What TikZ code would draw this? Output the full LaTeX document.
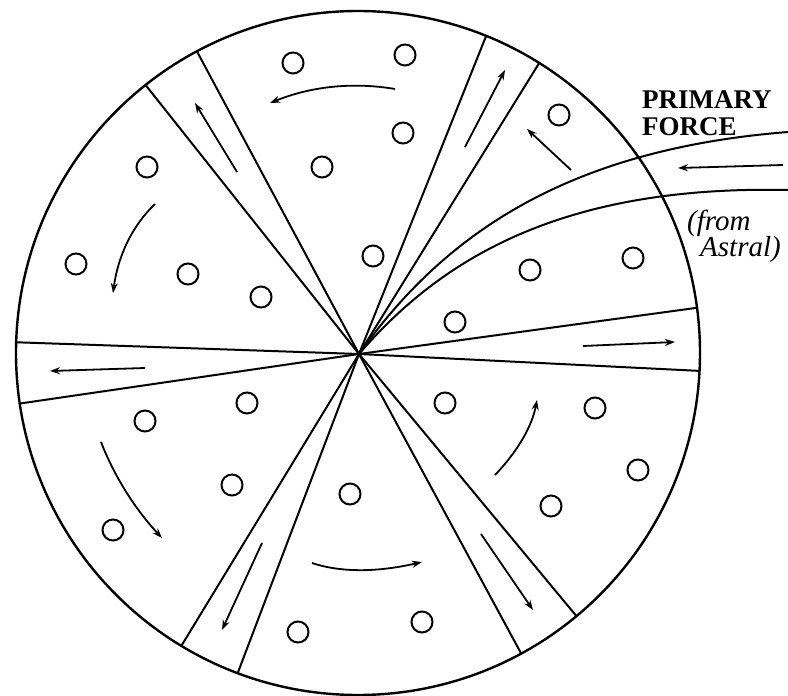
\documentclass[tikz,border=0pt]{standalone}
\usepackage{fontspec}
\setmainfont{Liberation Serif}
\usetikzlibrary{arrows.meta,calc}
\tikzset{
  >={Stealth[length=10pt,width=7pt]},
  rim/.style={draw=black,line width=2.4pt},
  spoke/.style={draw=black,line width=2pt},
  flow/.style={->,draw=black,line width=1.8pt},
  orb/.style={draw=black,line width=2pt},
  lab/.style={font=\bfseries\fontsize{27}{27}\selectfont,inner sep=0pt,anchor=base west},
  note/.style={font=\itshape\fontsize{29}{29}\selectfont,inner sep=0pt,anchor=base west},
}
\begin{document}
\begin{tikzpicture}[x=1pt,y=-1pt]
\useasboundingbox (0,0) rectangle (788,696);
\coordinate (ctr) at (358,353);
\coordinate (hub) at (359,354);
\draw[rim] (ctr) circle[radius=342pt];
% channel walls
\foreach \a in {128.4,118.1,68.0,58.0,178.2,188.5,7.6,-3.0,238.9,249.4,298.5,309.7}
  \draw[spoke] (hub) -- ($(ctr)+(\a:342pt)$);
% primary force stream
\draw[spoke] (hub) .. controls (440,240) and (560,150) .. (788,132);
\draw[spoke] (hub) .. controls (440,260) and (560,185) .. (788,190);
\draw[flow] (783,165) -- (678,168);
\node[lab] (prim) at (642,108) {PRIMARY};
\node[lab] (force) at (642,135) {FORCE};
\node[note] (from) at (687,230) {(from};
\node[note] (astral) at (700,256) {Astral)};
% particles
\foreach \p in {(293,63),(405,55),(403,133),(322,167),(373,256),
  (559,115),(530,270),(633,258),(455,322),
  (147,167),(76,264),(188,274),(261,297),
  (145,421),(247,403),(232,485),(113,530),
  (445,403),(595,408),(638,470),(551,506),
  (350,494),(298,632),(422,622)}
  \draw[orb] \p circle[radius=10.5pt];
% rotation inside sectors
\draw[flow] (395,89) .. controls (354,82) and (312,86) .. (270,103);
\draw[flow] (155,204) .. controls (132,226) and (118,256) .. (113,293);
\draw[flow] (101,442) .. controls (115,478) and (136,510) .. (162,538);
\draw[flow] (312,563) .. controls (342,573) and (379,572) .. (422,562);
\draw[flow] (495,475) .. controls (518,451) and (532,426) .. (537,400);
\draw[flow] (571,170) -- (527,129);
% outflow along channels
\draw[flow] (237,172) -- (195,103);
\draw[flow] (465,147) -- (505,70);
\draw[flow] (145,368) -- (50,371);
\draw[flow] (583,346) -- (675,342);
\draw[flow] (262,543) -- (222,630);
\draw[flow] (481,534) -- (533,610);
\end{tikzpicture}
\end{document}
